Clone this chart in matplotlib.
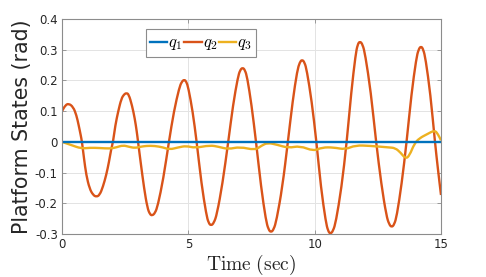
import numpy as np
import matplotlib
matplotlib.use("Agg")
import matplotlib.pyplot as plt
from matplotlib.path import Path
from matplotlib.patches import PathPatch
from matplotlib.lines import Line2D

# q2 (time in sec, angle in rad)
t_q2 = [0.00, 0.13, 0.26, 0.44, 0.57, 0.66, 0.74, 0.79, 0.87, 0.96, 1.09, 1.23, 1.36, 1.49,
        1.62, 1.75, 1.86, 1.95, 2.02, 2.11, 2.22, 2.35, 2.46, 2.55, 2.64, 2.77, 2.88, 2.96,
        3.01, 3.11, 3.25, 3.38, 3.48, 3.57, 3.68, 3.79, 4.01, 4.23, 4.43, 4.64, 4.74, 4.84,
        4.92, 5.00, 5.17, 5.33, 5.52, 5.71, 5.80, 5.90, 6.01, 6.13, 6.35, 6.58, 6.77, 6.96,
        7.05, 7.15, 7.24, 7.33, 7.50, 7.68, 7.88, 8.07, 8.17, 8.27, 8.38, 8.49, 8.72, 8.94,
        9.13, 9.31, 9.41, 9.50, 9.60, 9.69, 9.88, 10.07, 10.25, 10.44, 10.53, 10.62, 10.73,
        10.84, 11.06, 11.27, 11.45, 11.62, 11.70, 11.79, 11.90, 12.00, 12.22, 12.43, 12.64,
        12.84, 12.95, 13.05, 13.15, 13.25, 13.44, 13.64, 13.83, 14.02, 14.11, 14.21, 14.30,
        14.39, 14.58, 14.76, 14.88, 15.00]
q2 = [0.100, 0.119, 0.125, 0.114, 0.087, 0.054, 0.022, 0.000, -0.054, -0.108, -0.152, -0.173,
      -0.179, -0.173, -0.146, -0.108, -0.065, -0.022, 0.000, 0.054, 0.098, 0.141, 0.155, 0.159,
      0.155, 0.119, 0.076, 0.033, 0.000, -0.065, -0.152, -0.215, -0.236, -0.240, -0.232, -0.208,
      -0.120, 0.000, 0.100, 0.176, 0.196, 0.203, 0.196, 0.176, 0.100, 0.000, -0.137, -0.236,
      -0.264, -0.273, -0.264, -0.236, -0.137, 0.000, 0.121, 0.210, 0.234, 0.242, 0.234, 0.210,
      0.121, 0.000, -0.148, -0.255, -0.285, -0.295, -0.285, -0.255, -0.148, 0.000, 0.134, 0.232,
      0.259, 0.268, 0.259, 0.232, 0.134, 0.000, -0.150, -0.260, -0.290, -0.300, -0.290, -0.260,
      -0.150, 0.000, 0.164, 0.284, 0.317, 0.328, 0.317, 0.284, 0.164, 0.000, -0.139, -0.241,
      -0.269, -0.278, -0.269, -0.241, -0.139, 0.000, 0.156, 0.270, 0.301, 0.312, 0.301, 0.270,
      0.156, 0.000, -0.090, -0.173]

# q3
t_q3 = [0.00, 0.35, 0.77, 1.10, 1.50, 1.89, 2.15, 2.41, 2.65, 2.88, 3.10, 3.34, 3.67, 4.00,
        4.26, 4.60, 4.92, 5.26, 5.86, 6.20, 6.58, 7.04, 7.64, 7.90, 8.14, 8.50, 8.96, 9.42,
        9.95, 10.29, 10.75, 11.21, 11.61, 12.20, 12.93, 13.19, 13.40, 13.60, 13.75, 13.95,
        14.15, 14.45, 14.75, 14.88, 15.00]
q3 = [0.000, -0.010, -0.022, -0.019, -0.020, -0.022, -0.018, -0.011, -0.016, -0.020, -0.016,
      -0.013, -0.013, -0.018, -0.025, -0.018, -0.013, -0.020, -0.011, -0.016, -0.024, -0.016,
      -0.027, -0.012, -0.003, -0.009, -0.020, -0.013, -0.030, -0.018, -0.018, -0.025, -0.011,
      -0.013, -0.018, -0.020, -0.035, -0.055, -0.045, -0.005, 0.012, 0.025, 0.038, 0.025, 0.005]

# q1 stays at zero
t_q1 = [0.0, 15.0]
q1 = [0.0, 0.0]

names = [r'$q_1$', r'$q_2$', r'$q_3$']
colors = ['#0072BD', '#D95319', '#EDB120']

xticks = [0, 5, 10, 15]
xticklabels = ["0", "5", "10", "15"]
yticks = [-0.3, -0.2, -0.1, 0, 0.1, 0.2, 0.3, 0.4]
yticklabels = ["-0.3", "-0.2", "-0.1", "0", "0.1", "0.2", "0.3", "0.4"]


def smooth_path(x, y):
    # quadratic bezier through midpoints so the read points don't show corners
    pts = np.column_stack([x, y])
    mids = (pts[:-1] + pts[1:]) / 2
    verts = [pts[0], mids[0]]
    codes = [Path.MOVETO, Path.LINETO]
    for i in range(1, len(pts) - 1):
        verts += [pts[i], mids[i]]
        codes += [Path.CURVE3, Path.CURVE3]
    verts.append(pts[-1])
    codes.append(Path.LINETO)
    return Path(verts, codes)


plt.rcParams['mathtext.fontset'] = 'cm'

fig = plt.figure(figsize=(4.86, 2.77), dpi=100)
ax = fig.add_axes([0.1276, 0.1552, 0.7798, 0.7762])

lw = 1.7
ax.plot(t_q1, q1, color=colors[0], lw=lw)
for x, y, c in [(t_q2, q2, colors[1]), (t_q3, q3, colors[2])]:
    ax.add_patch(PathPatch(smooth_path(x, y), fill=False, edgecolor=c, lw=lw,
                           capstyle='butt', joinstyle='round'))

ax.set_xlim(0, 15)
ax.set_ylim(-0.3, 0.4)
ax.set_xticks(xticks)
ax.set_xticklabels(xticklabels)
ax.set_yticks(yticks)
ax.set_yticklabels(yticklabels)

#matlab style box and grid
ax.grid(True, color='#e3e3e3', lw=0.7)
ax.set_axisbelow(True)
for s in ax.spines.values():
    s.set_color('#8c8c8c')
    s.set_linewidth(0.8)
ax.tick_params(direction='in', top=True, right=True, length=3, width=0.6,
               color='#8c8c8c', labelsize=8.5, labelcolor='#262626', pad=3)

ax.set_ylabel('Platform States (rad)', fontsize=14.8, color='#262626', labelpad=2)
ax.set_xlabel(r'$\mathrm{Time\ (sec)}$', fontsize=14, color='#262626', labelpad=1)

handles = [Line2D([], [], color=c, lw=lw) for c in colors]
leg = ax.legend(handles, names, loc='upper left', bbox_to_anchor=(0.221, 0.952),
                borderaxespad=0, ncol=3, fontsize=12, handlelength=1.05,
                handletextpad=0.05, columnspacing=0.1, borderpad=0.25,
                fancybox=False, framealpha=1)
leg.get_frame().set_edgecolor('#8c8c8c')
leg.get_frame().set_linewidth(0.8)

fig.savefig('out.png', dpi=100)
